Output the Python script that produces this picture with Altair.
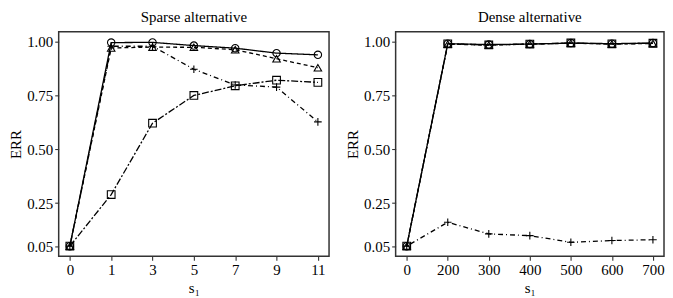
import altair as alt
import pandas as pd

# ---- data ----
sparse_s1 = ["0", "1", "3", "5", "7", "9", "11"]
sparse_circle = [0.05, 0.997, 0.998, 0.983, 0.971, 0.948, 0.940]
sparse_triangle = [0.05, 0.972, 0.976, 0.975, 0.964, 0.922, 0.880]
sparse_plus = [0.05, 0.980, 0.980, 0.873, 0.800, 0.790, 0.628]
sparse_square = [0.05, 0.290, 0.622, 0.751, 0.796, 0.822, 0.812]

dense_s1 = ["0", "200", "300", "400", "500", "600", "700"]
dense_circle = [0.05, 0.992, 0.988, 0.990, 0.995, 0.992, 0.995]
dense_triangle = [0.05, 0.990, 0.985, 0.990, 0.994, 0.990, 0.993]
dense_plus = [0.05, 0.161, 0.107, 0.099, 0.068, 0.076, 0.080]
dense_square = [0.05, 0.991, 0.986, 0.990, 0.995, 0.991, 0.994]

methods = ["circle", "triangle", "plus", "square"]
y_ticks = [0.05, 0.25, 0.50, 0.75, 1.00]


def long_df(xs, series):
    rows = []
    for m, vals in zip(methods, series):
        for x, v in zip(xs, vals):
            rows.append({"s1": x, "ERR": v, "method": m})
    return pd.DataFrame(rows)


sparse_df = long_df(sparse_s1, [sparse_circle, sparse_triangle, sparse_plus, sparse_square])
dense_df = long_df(dense_s1, [dense_circle, dense_triangle, dense_plus, dense_square])

FONT = "Liberation Serif"
plus_path = "M-1,0L1,0M0,-1L0,1"


def panel(df, xs, title, width):
    x = alt.X("s1:N", sort=xs, title="s₁",
              scale=alt.Scale(type="point", padding=0.27),
              axis=alt.Axis(labelAngle=0))
    y = alt.Y("ERR:Q", title="ERR",
              scale=alt.Scale(domain=[0.0025, 1.0475], nice=False, zero=False),
              axis=alt.Axis(values=y_ticks, format=".2f"))
    dash = alt.StrokeDash("method:N", legend=None,
                          scale=alt.Scale(domain=methods,
                                          range=[[1, 0], [4, 3], [1, 3, 5, 3], [7, 2, 2, 2]]))
    line = alt.Chart(df).mark_line(color="black", strokeWidth=1.3).encode(
        x=x, y=y, strokeDash=dash, detail="method:N")
    pts = alt.Chart(df).mark_point(filled=False, color="black", strokeWidth=1.1, opacity=1).encode(
        x=x, y=y,
        shape=alt.Shape("method:N", legend=None,
                        scale=alt.Scale(domain=methods,
                                        range=["circle", "triangle-up", plus_path, "square"])),
        size=alt.Size("method:N", legend=None,
                      scale=alt.Scale(domain=methods, range=[55, 60, 120, 48])),
    )
    return alt.layer(line, pts).properties(
        width=width, height=226,
        title=alt.TitleParams(title, font=FONT, fontSize=15, fontWeight="normal",
                              color="black", offset=4, dy=-3),
    )


chart = alt.hconcat(
    panel(sparse_df, sparse_s1, "Sparse alternative", 272),
    panel(dense_df, dense_s1, "Dense alternative", 270),
    spacing=15,
).properties(
    padding={"left": 0, "top": 0, "right": 0, "bottom": 0}
).configure_axis(
    labelFont=FONT, titleFont=FONT, labelFontSize=15, titleFontSize=15,
    labelColor="black", titleColor="black", titleFontWeight="normal",
    grid=False, domain=False, tickColor="#333333", tickSize=4, tickWidth=1.1,
    labelPadding=2, titlePadding=3,
).configure_view(
    stroke="#333333", strokeWidth=1.5
).configure_title(anchor="middle")

chart.save("out.html", embed_options={"renderer": "svg", "actions": False})
